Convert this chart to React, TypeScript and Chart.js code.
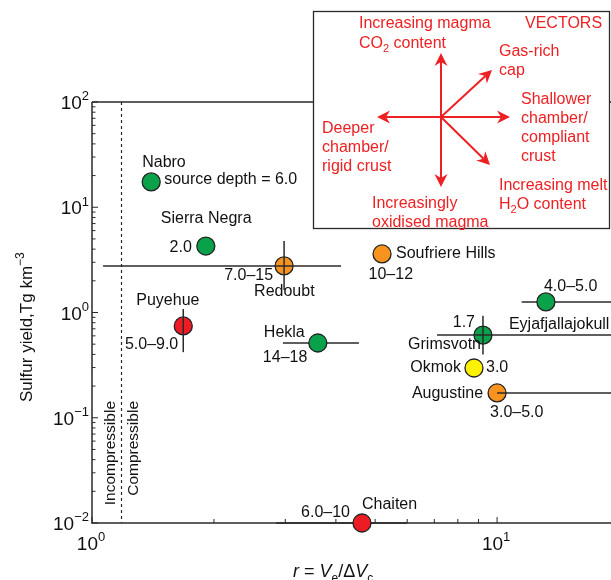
import React, { useEffect, useRef } from "react";
import { Chart, registerables } from "chart.js";

Chart.register(...registerables);

// ---------- data ----------
const volcanoes = ["Nabro", "Sierra Negra", "Redoubt", "Puyehue", "Hekla", "Soufriere Hills", "Eyjafjallajokull", "Grimsvotn", "Okmok", "Augustine", "Chaiten"];
const rValues = [1.40, 1.91, 2.98, 1.68, 3.61, 5.20, 13.2, 9.23, 8.77, 10.0, 4.64];
const sulfurYield = [17.4, 4.28, 2.77, 0.745, 0.513, 3.6, 1.26, 0.61, 0.297, 0.172, 0.01];
const depthLabels = ["source depth = 6.0", "2.0", "7.0–15", "5.0–9.0", "14–18", "10–12", "4.0–5.0", "1.7", "3.0", "3.0–5.0", "6.0–10"];
const groups = ["green", "green", "orange", "red", "green", "orange", "green", "green", "yellow", "orange", "red"];
const rLow: (number | null)[] = [null, null, 1.065, null, 2.96, null, 11.5, 7.11, null, 10.0, 2.85];
const rHigh: (number | null)[] = [null, null, 4.12, null, 4.56, null, 40, 40, null, 40, 6.0];
const yLow: (number | null)[] = [null, null, 1.64, 0.42, null, null, null, 0.40, null, null, null];
const yHigh: (number | null)[] = [null, null, 4.77, 1.08, null, null, null, 0.93, null, null, null];
const compressibilityLimit = 1.18;
const xMin = 1;
const xMax = 19.11;
const yMin = 0.01;
const yMax = 100;

// ---------- styles ----------
const groupColors: Record<string, string> = {
  green: "#0aa14b",
  orange: "#f7931e",
  red: "#ed1c24",
  yellow: "#fff200",
};
// error bar drawn in front of marker?
const barInFront = [false, false, true, true, false, false, false, true, false, true, false];
// label offsets relative to marker pixel [dx, dy, align]
const nameOffsets: [number, number, CanvasTextAlign][] = [
  [-9, -19, "left"], [-45, -27, "left"], [-30, 26, "left"], [-47, -25, "left"], [-54, -10, "left"],
  [14, 0, "left"], [-37, 23, "left"], [-2, 9, "right"], [-13, 0, "right"], [-14, 1, "right"], [0, -18, "left"],
];
const depthOffsets: [number, number, CanvasTextAlign][] = [
  [13, -2, "left"], [-14, 2, "right"], [-11, 10, "right"], [-5, 19, "right"], [-55, 15, "left"],
  [31, 21, "right"], [-2, -15, "left"], [-8, -13, "right"], [12, 0, "left"], [-7, 20, "left"], [-12, -10, "right"],
];

const FONT = '"Liberation Sans", Arial, Helvetica, sans-serif';
const INK = "#2a2a2a";
const RED = "#ed2024";

type Part = [string, "" | "sup" | "sub" | "i"];

function drawRich(ctx: CanvasRenderingContext2D, parts: Part[], x: number, y: number, align: "left" | "center" | "right", size: number, color: string) {
  const fontFor = (m: string) => {
    if (m === "sup" || m === "sub") return `${Math.round(size * 0.68)}px ${FONT}`;
    if (m === "i") return `italic ${size}px ${FONT}`;
    return `${size}px ${FONT}`;
  };
  let total = 0;
  const widths = parts.map(([t, m]) => {
    ctx.font = fontFor(m);
    const w = ctx.measureText(t).width;
    total += w;
    return w;
  });
  let cx = align === "left" ? x : align === "right" ? x - total : x - total / 2;
  ctx.fillStyle = color;
  ctx.textAlign = "left";
  ctx.textBaseline = "alphabetic";
  parts.forEach(([t, m], i) => {
    ctx.font = fontFor(m);
    let dy = 0;
    if (m === "sup") dy = -size * 0.45;
    if (m === "sub") dy = size * 0.28;
    ctx.fillText(t, cx, y + dy);
    cx += widths[i];
  });
}

function drawArrow(ctx: CanvasRenderingContext2D, x0: number, y0: number, x1: number, y1: number) {
  const ang = Math.atan2(y1 - y0, x1 - x0);
  const L = 13, W = 6.5, N = 4;
  const bx = x1 - Math.cos(ang) * (L - N);
  const by = y1 - Math.sin(ang) * (L - N);
  ctx.beginPath();
  ctx.moveTo(x0, y0);
  ctx.lineTo(bx, by);
  ctx.stroke();
  const px = -Math.sin(ang), py = Math.cos(ang);
  const backX = x1 - Math.cos(ang) * L, backY = y1 - Math.sin(ang) * L;
  ctx.beginPath();
  ctx.moveTo(x1, y1);
  ctx.lineTo(backX + px * W, backY + py * W);
  ctx.lineTo(bx, by);
  ctx.lineTo(backX - px * W, backY - py * W);
  ctx.closePath();
  ctx.fill();
}

function drawBars(chart: any, front: boolean) {
  const ctx: CanvasRenderingContext2D = chart.ctx;
  const xs = chart.scales.x, ys = chart.scales.y;
  ctx.save();
  ctx.strokeStyle = INK;
  ctx.lineWidth = 1.5;
  volcanoes.forEach((_, i) => {
    if (barInFront[i] !== front) return;
    const px = xs.getPixelForValue(rValues[i]);
    const py = ys.getPixelForValue(sulfurYield[i]);
    const lo = rLow[i], hi = rHigh[i];
    if (lo != null && hi != null) {
      ctx.beginPath();
      ctx.moveTo(xs.getPixelForValue(lo), py);
      ctx.lineTo(xs.getPixelForValue(hi), py);
      ctx.stroke();
    }
    const yl = yLow[i], yh = yHigh[i];
    if (yl != null && yh != null) {
      ctx.beginPath();
      ctx.moveTo(px, ys.getPixelForValue(yl));
      ctx.lineTo(px, ys.getPixelForValue(yh));
      ctx.stroke();
    }
  });
  ctx.restore();
}

const decoPlugin = {
  id: "deco",
  beforeDatasetsDraw(chart: any) {
    const ctx: CanvasRenderingContext2D = chart.ctx;
    const { left, right, top, bottom } = chart.chartArea;
    const xs = chart.scales.x, ys = chart.scales.y;
    ctx.save();
    // dashed compressibility line
    const dx = Math.round(xs.getPixelForValue(compressibilityLimit)) + 0.5;
    ctx.strokeStyle = INK;
    ctx.lineWidth = 1.2;
    ctx.setLineDash([3, 3]);
    ctx.beginPath();
    ctx.moveTo(dx, top);
    ctx.lineTo(dx, bottom);
    ctx.stroke();
    ctx.setLineDash([]);
    // rotated labels
    ctx.fillStyle = "#111";
    ctx.font = `15.5px ${FONT}`;
    ctx.textBaseline = "middle";
    ctx.textAlign = "right";
    ctx.save();
    ctx.translate(dx - 11, 401);
    ctx.rotate(-Math.PI / 2);
    ctx.fillText("Incompressible", 0, 0);
    ctx.restore();
    ctx.save();
    ctx.translate(dx + 12, 401);
    ctx.rotate(-Math.PI / 2);
    ctx.fillText("Compressible", 0, 0);
    ctx.restore();

    // spines
    ctx.strokeStyle = INK;
    ctx.lineWidth = 1.5;
    ctx.beginPath();
    ctx.moveTo(left, top);
    ctx.lineTo(right, top);
    ctx.moveTo(left, top);
    ctx.lineTo(left, bottom);
    ctx.lineTo(right, bottom);
    ctx.stroke();
    // y ticks
    ctx.lineWidth = 1;
    for (let e = -2; e <= 2; e++) {
      for (let m = 1; m <= 9; m++) {
        const v = m * Math.pow(10, e);
        if (v < yMin - 1e-12 || v > yMax + 1e-9) continue;
        const py = ys.getPixelForValue(v);
        const len = m === 1 ? 6 : 3.5;
        ctx.beginPath();
        ctx.moveTo(left, py);
        ctx.lineTo(left + len, py);
        ctx.stroke();
      }
    }
    // x ticks
    for (let e = 0; e <= 1; e++) {
      for (let m = 1; m <= 9; m++) {
        const v = m * Math.pow(10, e);
        if (v > xMax) continue;
        const px = xs.getPixelForValue(v);
        const len = m === 1 ? 6 : 4;
        ctx.beginPath();
        ctx.moveTo(px, bottom);
        ctx.lineTo(px, bottom - len);
        ctx.stroke();
      }
    }
    // y tick labels
    const supMap: Record<number, string> = { 2: "2", 1: "1", 0: "0", [-1]: "−1", [-2]: "−2" };
    for (let e = -2; e <= 2; e++) {
      const py = ys.getPixelForValue(Math.pow(10, e));
      drawRich(ctx, [["10", ""], [supMap[e], "sup"]], left - 3, py + 7, "right", 19, "#111");
    }
    // x tick labels
    for (let e = 0; e <= 1; e++) {
      const px = xs.getPixelForValue(Math.pow(10, e));
      drawRich(ctx, [["10", ""], [String(e), "sup"]], px - 1, bottom + 27, "center", 19, "#111");
    }
    // axis titles
    ctx.save();
    ctx.translate(32, 402);
    ctx.rotate(-Math.PI / 2);
    drawRich(ctx, [["Sulfur yield,Tg km", ""], ["−3", "sup"]], 0, 0, "left", 17, "#111");
    ctx.restore();
    drawRich(ctx, [["r", "i"], [" = ", ""], ["V", "i"], ["e", "sub"], ["/Δ", ""], ["V", "i"], ["c", "sub"]], 293, 577, "left", 18, "#111");

    ctx.restore();
    drawBars(chart, false);
  },
  afterDatasetsDraw(chart: any) {
    drawBars(chart, true);
    const ctx: CanvasRenderingContext2D = chart.ctx;
    const xs = chart.scales.x, ys = chart.scales.y;
    ctx.save();
    ctx.font = `16px ${FONT}`;
    ctx.fillStyle = "#111";
    ctx.textBaseline = "middle";
    volcanoes.forEach((name, i) => {
      const px = xs.getPixelForValue(rValues[i]);
      const py = ys.getPixelForValue(sulfurYield[i]);
      const [nx, ny, na] = nameOffsets[i];
      ctx.textAlign = na;
      ctx.fillText(name, px + nx, py + ny);
      const [dx, dy, da] = depthOffsets[i];
      ctx.textAlign = da;
      ctx.fillText(depthLabels[i], px + dx, py + dy);
    });
    ctx.restore();
  },
  afterDraw(chart: any) {
    const ctx: CanvasRenderingContext2D = chart.ctx;
    ctx.save();
    // vectors inset box
    ctx.fillStyle = "#fff";
    ctx.fillRect(313.5, 11.5, 296, 217);
    ctx.strokeStyle = INK;
    ctx.lineWidth = 1.3;
    ctx.strokeRect(313.5, 11.5, 296, 217);
    // arrows
    ctx.strokeStyle = RED;
    ctx.fillStyle = RED;
    ctx.lineWidth = 2;
    const cx = 441, cy = 117;
    drawArrow(ctx, cx, cy, cx, 53);
    drawArrow(ctx, cx, cy, cx, 187);
    drawArrow(ctx, cx, cy, 377, cy);
    drawArrow(ctx, cx, cy, 510, cy);
    drawArrow(ctx, cx, cy, 492, 70);
    drawArrow(ctx, cx, cy, 490, 165);
    // texts
    const s = 16;
    const t = (txt: string, x: number, y: number) => drawRich(ctx, [[txt, ""]], x, y + 5.8, "left", s, RED);
    t("Increasing magma", 359, 22);
    drawRich(ctx, [["CO", ""], ["2", "sub"], [" content", ""]], 359, 42 + 5.8, "left", s, RED);
    t("VECTORS", 525, 22);
    t("Gas-rich", 499, 50);
    t("cap", 499, 69);
    t("Shallower", 521, 98);
    t("chamber/", 521, 117);
    t("compliant", 521, 136);
    t("crust", 521, 155);
    t("Deeper", 322, 127);
    t("chamber/", 322, 146);
    t("rigid crust", 322, 165);
    t("Increasingly", 372, 202);
    t("oxidised magma", 372, 221);
    t("Increasing melt", 499, 184);
    drawRich(ctx, [["H", ""], ["2", "sub"], ["O content", ""]], 499, 203 + 5.8, "left", s, RED);
    ctx.restore();
  },
};

export default function App() {
  const ref = useRef<HTMLCanvasElement | null>(null);
  useEffect(() => {
    if (!ref.current) return;
    const chart = new Chart(ref.current, {
      type: "scatter",
      data: {
        datasets: [
          {
            label: "Sulfur yield",
            data: volcanoes.map((_, i) => ({ x: rValues[i], y: sulfurYield[i] })),
            backgroundColor: groups.map((g) => groupColors[g]),
            borderColor: "#222",
            borderWidth: 1.3,
            pointRadius: 9,
            pointHoverRadius: 9,
            clip: false as any,
          },
        ],
      },
      options: {
        animation: false,
        responsive: false,
        events: [],
        layout: { autoPadding: false, padding: { left: 92, top: 102, right: 0, bottom: 57 } },
        plugins: { legend: { display: false }, tooltip: { enabled: false } },
        scales: {
          x: { type: "logarithmic", min: xMin, max: xMax, display: false },
          y: { type: "logarithmic", min: yMin, max: yMax, display: false },
        },
      },
      plugins: [decoPlugin],
    });
    return () => chart.destroy();
  }, []);
  return (
    <div style={{ position: "absolute", left: 0, top: 0, width: 611, height: 580, background: "#fff" }}>
      <canvas ref={ref} width={611} height={580} style={{ width: 611, height: 580, display: "block" }} />
    </div>
  );
}
